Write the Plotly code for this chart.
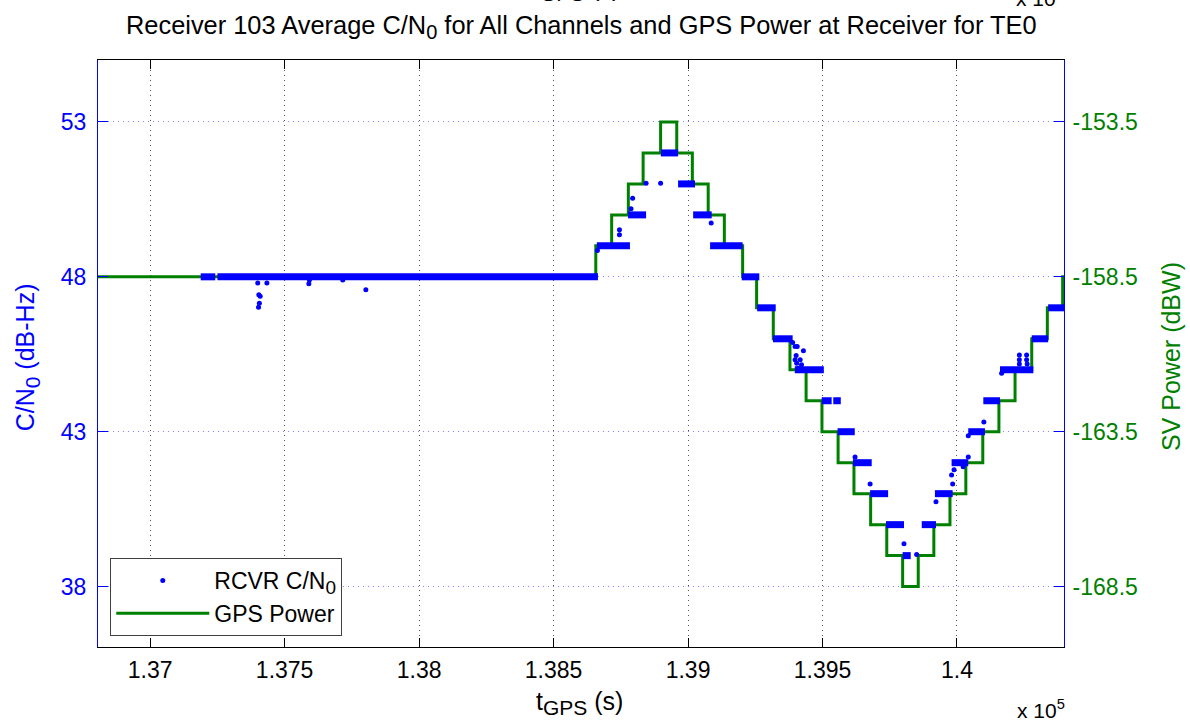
import plotly.graph_objects as go

# ---------------- data ----------------
# GPS power at receiver: step profile (time in s, power in dBW)
power_t = [136806, 138657, 138716, 138778, 138833, 138898, 138958, 139016, 139075,
           139135, 139203, 139255, 139317, 139379, 139439, 139498, 139558, 139617,
           139679, 139739, 139798, 139856, 139914, 139974, 140033, 140096, 140156,
           140216, 140278, 140336, 140393, 140398]
power_dbw = [-158.5, -157.5, -156.5, -155.5, -154.5, -153.5, -154.5, -155.5, -156.5,
             -157.5, -158.5, -159.5, -160.5, -161.5, -162.5, -163.5, -164.5, -165.5,
             -166.5, -167.5, -168.5, -167.5, -166.5, -165.5, -164.5, -163.5, -162.5,
             -161.5, -160.5, -159.5, -158.5, -158.5]

# Receiver C/N0: dense runs of samples at a constant value (start s, end s, dB-Hz)
band_start = [137188, 137250, 138661, 138777, 138899, 138963, 139019, 139082, 139200,
              139257, 139316, 139397, 139497, 139540, 139556, 139613, 139677, 139736,
              139798, 139869, 139918, 139980, 140042, 140098, 140160, 140278, 140339]
band_end = [137242, 138665, 138784, 138844, 138963, 139026, 139088, 139203, 139265,
            139326, 139389, 139505, 139534, 139568, 139620, 139683, 139744, 139803,
            139828, 139922, 139984, 140042, 140104, 140160, 140284, 140339, 140402]
band_cn0 = [48, 48, 49, 50, 52, 51, 50, 49, 48,
            47, 46, 45, 44, 44, 43, 42, 41, 40,
            39, 40, 41, 42, 43, 44, 45, 46, 47]

# Receiver C/N0: isolated samples
dot_t = [137400, 137434, 137404, 137409, 137406, 137403, 137592, 137590, 137716, 137802,
         138663, 138745, 138745, 138788, 138794, 138844, 138898, 139086,
         139389, 139398, 139406, 139429, 139402, 139398, 139417, 139404, 139422, 139410,
         139621, 139677, 139803, 139850, 139922, 139984, 139980, 139989, 140023, 140042,
         140042, 140100, 140166, 140232, 140232, 140232, 140259, 140259, 140261]
dot_cn0 = [47.80, 47.80, 47.42, 47.37, 47.15, 47.02, 47.90, 47.78, 47.90, 47.58,
           48.85, 49.52, 49.36, 50.20, 50.54, 51.02, 51.02, 49.74,
           45.88, 45.75, 45.75, 45.61, 45.46, 45.32, 45.32, 45.21, 45.16, 45.05,
           42.18, 41.31, 39.38, 39.04, 40.74, 41.31, 41.60, 41.77, 41.87, 42.18,
           42.87, 43.31, 44.89, 45.48, 45.32, 45.19, 45.48, 45.32, 45.19]

x_tickvals = [137000, 137500, 138000, 138500, 139000, 139500, 140000]
x_ticktext = ['1.37', '1.375', '1.38', '1.385', '1.39', '1.395', '1.4']
cn0_ticks = [38, 43, 48, 53]
pow_ticks = [-168.5, -163.5, -158.5, -153.5]

x_range = [136806, 140398]
cn0_range = [36.05, 55.0]
pow_range = [-170.45, -151.5]

# ---------------- styling ----------------
FONT = 'Liberation Sans, Arial, Helvetica, sans-serif'
BLUE = '#0000FF'
GREEN = '#008000'


def sub(t, px):
    return '<sub><span style="font-size:%dpx">%s</span></sub>' % (px, t)


band_x, band_y = [], []
for s, e, v in zip(band_start, band_end, band_cn0):
    band_x += [s, e, None]
    band_y += [v, v, None]

fig = go.Figure()

fig.add_trace(go.Scatter(
    x=power_t, y=power_dbw, mode='lines', line=dict(color=GREEN, width=3, shape='hv'),
    name='GPS Power', yaxis='y', legendrank=2))

fig.add_trace(go.Scatter(
    x=band_x, y=band_y, mode='lines', line=dict(color=BLUE, width=7),
    yaxis='y2', showlegend=False, hoverinfo='skip', connectgaps=False))

fig.add_trace(go.Scatter(
    x=dot_t, y=dot_cn0, mode='markers', marker=dict(color=BLUE, size=5),
    name='RCVR C/N' + sub('0', 19), yaxis='y2', legendrank=1))

fig.update_layout(
    width=1190, height=725,
    margin=dict(l=98, r=126, t=60, b=78),
    paper_bgcolor='white', plot_bgcolor='white',
    font=dict(family=FONT, size=23, color='black'),
    showlegend=True,
    legend=dict(x=0.0127, y=0.1516, xanchor='left', yanchor='top',
                bgcolor='white', bordercolor='#404040', borderwidth=1,
                font=dict(size=23, family=FONT), itemwidth=93,
                traceorder='normal', tracegroupgap=0),
    xaxis=dict(range=x_range, tickvals=x_tickvals, ticktext=x_ticktext,
               showline=True, linecolor='black', linewidth=1, mirror='ticks',
               ticks='inside', ticklen=9, tickcolor='black',
               showgrid=True, gridcolor='#555555', griddash='1px,4px', gridwidth=1,
               zeroline=False, tickfont=dict(size=23, color='black'),
               ticklabelstandoff=2),
    yaxis=dict(range=pow_range, tickvals=pow_ticks, ticktext=[str(v) for v in pow_ticks],
               side='right', showline=True, linecolor=BLUE, linewidth=1,
               ticks='inside', ticklen=10, tickcolor=BLUE,
               showgrid=False, zeroline=False,
               tickfont=dict(size=23, color=GREEN), ticklabelstandoff=3),
    yaxis2=dict(range=cn0_range, tickvals=cn0_ticks, overlaying='y', side='left',
                showline=True, linecolor=BLUE, linewidth=1,
                ticks='inside', ticklen=10, tickcolor=BLUE,
                showgrid=True, gridcolor='rgba(80,80,255,0.7)', griddash='1px,4px',
                zeroline=False, tickfont=dict(size=23, color=BLUE), ticklabelstandoff=6),
)

PW = 966.3   # plot width in px
PH = 587.0   # plot height in px


def px_x(x):
    return (x - 97.7) / PW


def px_y(y):
    return (647 - y) / PH


annotations = [
    dict(text='Receiver 103 Average C/N' + sub('0', 20) +
              ' for All Channels and GPS Power at Receiver for TE0',
         x=0.5, y=px_y(27), xref='paper', yref='paper', showarrow=False,
         xanchor='center', yanchor='middle', font=dict(size=25.4, color='black')),
    dict(text='C/N' + sub('0', 21) + ' (dB-Hz)', x=px_x(27), y=px_y(357),
         xref='paper', yref='paper', showarrow=False, textangle=-90,
         xanchor='center', yanchor='middle', font=dict(size=25, color=BLUE)),
    dict(text='SV Power (dBW)', x=px_x(1171), y=px_y(356),
         xref='paper', yref='paper', showarrow=False, textangle=-90,
         xanchor='center', yanchor='middle', font=dict(size=25, color=GREEN)),
    dict(text='t' + sub('GPS', 21) + ' (s)', x=px_x(579), y=px_y(703),
         xref='paper', yref='paper', showarrow=False,
         xanchor='center', yanchor='middle', font=dict(size=25, color='black')),
    dict(text='x 10<sup>5</sup>', x=px_x(1041), y=px_y(709),
         xref='paper', yref='paper', showarrow=False,
         xanchor='center', yanchor='middle', font=dict(size=21, color='black')),
    # clipped remnants of the figure above, visible at the very top edge
    dict(text='t' + sub('GPS', 21) + ' (s)', x=px_x(576), y=px_y(-11.5),
         xref='paper', yref='paper', showarrow=False,
         xanchor='center', yanchor='middle', font=dict(size=25, color='black')),
    dict(text='x 10<sup>5</sup>', x=px_x(1040), y=px_y(-3.5),
         xref='paper', yref='paper', showarrow=False,
         xanchor='center', yanchor='middle', font=dict(size=21, color='black')),
]
fig.update_layout(annotations=annotations)

# remove the default 8 px page margin so the figure fills the window exactly
fig.write_html('out.html', config={'displayModeBar': False},
               post_script="document.body.style.margin='0';document.body.style.overflow='hidden';")
